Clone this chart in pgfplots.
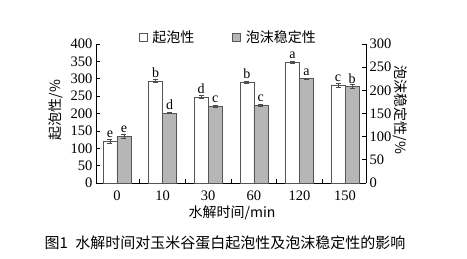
\documentclass[border=0pt]{standalone}
\usepackage{pgfplots}
\pgfplotsset{compat=1.18}
\usepackage{pgfplotstable}
\usepackage{fontspec}
\setmainfont{Liberation Serif}
\newfontfamily\cjk{Noto Sans CJK SC}
\definecolor{barg}{RGB}{182,182,182}
\definecolor{edge}{RGB}{85,85,85}

\pgfplotstableread{
x y e l
0 120 5 e
1 294 3 b
2 248 3 d
3 290 3 b
4 348 3 a
5 281 5 c
}\foaming
\pgfplotstableread{
x y e l
0 101 4 e
1 151 1 d
2 166 2 c
3 168 2 c
4 225 2 a
5 208 4 b
}\stability

\pgfplotsset{
  common/.style={
    at={(96pt,75pt)}, anchor=south west,
    scale only axis, width=270pt, height=139pt,
    xmin=-0.46, xmax=5.46, ymin=0,
    tick align=inside, major tick length=4pt,
    axis line style={black, line width=0.7pt},
    tick style={black, line width=0.7pt},
    tick label style={font=\fontsize{14.5}{14.5}\selectfont},
    /pgf/number format/assume math mode=true,
    label style={font=\cjk\fontsize{14}{14}\selectfont},
    clip=false,
  },
  barsty/.style={
    ybar, bar width=14pt, bar shift=0pt, line width=0.6pt,
    error bars/y dir=both, error bars/y explicit,
    error bars/error bar style={line width=0.6pt, black!70},
    error bars/error mark options={rotate=90, mark size=2.5pt, line width=0.6pt, black!70},
  },
}

\begin{document}
\begin{tikzpicture}
\useasboundingbox (0,0) rectangle (467pt,258pt);
\begin{axis}[common,
  ymax=400, ytick={0,50,...,400},
  axis x line*=bottom, axis y line*=left,
  xtick={0.5,1.5,2.5,3.5,4.5}, xticklabels={},
  extra x ticks={0,1,2,3,4,5},
  extra x tick labels={0,10,30,60,120,150},
  extra x tick style={major tick length=0pt, tick label style={yshift=-4pt}},
  ylabel={起泡性/\%},
  ylabel style={at={(axis description cs:-0.148,0.525)}, anchor=center, rotate=0},
  xlabel={水解时间/min},
  xlabel style={at={(axis description cs:0.504,-0.216)}, anchor=center},
  nodes near coords, point meta=explicit symbolic,
  every node near coord/.append style={font=\fontsize{14}{14}\selectfont, anchor=south, inner sep=1pt, yshift=2pt},
  legend style={draw=none, fill=none, at={(axis description cs:0.158,1.05)}, anchor=west,
    font=\cjk\fontsize{14}{14}\selectfont, inner sep=0pt,
    /tikz/every even column/.append style={column sep=36pt}},
  legend columns=2,
]
\addplot[barsty, fill=white, draw=edge,
  legend image code/.code={\draw[fill=white,draw=edge,line width=0.6pt] (0pt,-4pt) rectangle (8pt,4pt); \path (11pt,0pt);}]
  table[x expr=\thisrow{x}-0.1535, y=y, y error=e, meta=l]{\foaming};
\addlegendentry{起泡性}
\addlegendimage{legend image code/.code={\draw[fill=barg,draw=edge,line width=0.6pt] (0pt,-4pt) rectangle (8pt,4pt); \path (11pt,0pt);}}
\addlegendentry{泡沫稳定性}
\end{axis}
\begin{axis}[common,
  ymax=300, ytick={0,50,...,300},
  axis y line*=right, axis x line=none,
  ylabel={泡沫稳定性/\%},
  ylabel style={at={(axis description cs:1.126,0.525)}, anchor=center, rotate=180},
  nodes near coords, point meta=explicit symbolic,
  every node near coord/.append style={font=\fontsize{14}{14}\selectfont, anchor=south, inner sep=1pt, yshift=2pt},
]
\addplot[barsty, fill=barg, draw=edge]
  table[x expr=\thisrow{x}+0.1535, y=y, y error=e, meta=l]{\stability};
\end{axis}
\node[font=\cjk\fontsize{15}{15}\selectfont] at (225pt,15pt) {图1\hspace{0.5em}水解时间对玉米谷蛋白起泡性及泡沫稳定性的影响};
\end{tikzpicture}
\end{document}
